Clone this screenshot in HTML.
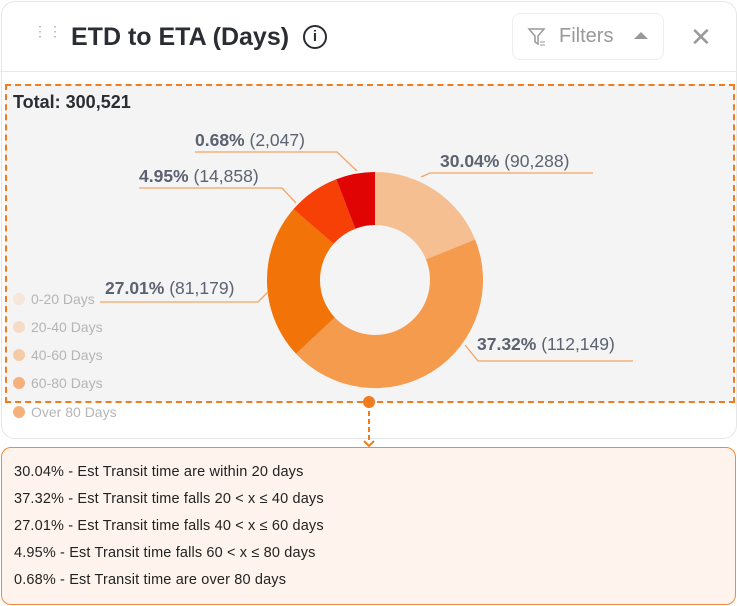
<!DOCTYPE html><html><head><style>
body{margin:0;width:737px;height:606px;background:#fff;font-family:"Liberation Sans",sans-serif;position:relative;overflow:hidden}
.card{position:absolute;left:1px;top:1px;width:734px;height:436px;border:1px solid #e6e6e6;border-radius:14px;background:#fff}
.t{position:absolute;white-space:nowrap}
.box{position:absolute;left:1px;top:447px;width:733px;height:156px;border:1.5px solid #f08a3c;border-radius:10px;background:#fef4ed}
.box div{font-size:14.5px;color:#222;position:absolute;left:12px;letter-spacing:0.15px}
</style></head><body>
<div class="card"></div>
<div class="t" style="left:33px;top:28px;color:#aaa;font-size:14px;line-height:6px;letter-spacing:1px">⋮⋮</div>
<div class="t" style="left:71px;top:23px;font-size:25px;font-weight:bold;color:#2a2d33">ETD to ETA (Days)</div>
<div class="t" style="left:303px;top:25px;width:20px;height:20px;border:2px solid #2a2d33;border-radius:50%;text-align:center;font-size:15px;font-weight:bold;line-height:20px;color:#2a2d33">i</div>
<div class="t" style="left:512px;top:13px;width:150px;height:45px;border:1px solid #eee;border-radius:8px"></div>
<svg class="t" style="left:527px;top:27px" width="20" height="20"><path d="M2 2H17L11 9V17L8 15V9Z" fill="none" stroke="#999" stroke-width="1.5"/><path d="M13 15h5M13 18h5" stroke="#999"/></svg>
<div class="t" style="left:559px;top:25px;font-size:20px;color:#999">Filters</div>
<div class="t" style="left:634px;top:32px;width:0;height:0;border-left:7px solid transparent;border-right:7px solid transparent;border-bottom:7px solid #999"></div>
<div class="t" style="left:690px;top:22px;font-size:26px;color:#999">✕</div>
<div class="t" style="left:0;top:71px;width:737px;height:1px;background:#e8e8e8"></div>
<div class="t" style="left:5px;top:84px;width:726px;height:315px;background:#f4f4f4;border:2px dashed #f07c1e"></div>
<div class="t" style="left:13px;top:92px;font-size:18px;font-weight:bold;color:#2a2d33">Total: 300,521</div>
<svg class="t" style="left:0;top:0" width="737" height="606" id="s">
<g id="pie"></g>
<g fill="none" stroke="#f5a462" stroke-width="1.3">
<polyline points="421,177 430,173 593,173"/>
<polyline points="465,345 478,361 633,361"/>
<polyline points="100,302 258,302 268,292"/>
<polyline points="139,188 282,188 296,203"/>
<polyline points="195,152 337,152 357,171"/>
<line x1="369" y1="403" x2="369" y2="443" stroke="#f07c1e" stroke-width="2" stroke-dasharray="5,3"/>
</g>
<circle cx="369" cy="402" r="6" fill="#f07c1e"/>
<path d="M364 441l5 5 5-5" stroke="#f07c1e" stroke-width="2" fill="none"/>
<g font-size="17.5" fill="#5b6270">
<text x="440" y="167"><tspan font-weight="bold">30.04%</tspan>  (90,288)</text>
<text x="477" y="350"><tspan font-weight="bold">37.32%</tspan> (112,149)</text>
<text x="105" y="294"><tspan font-weight="bold">27.01%</tspan> (81,179)</text>
<text x="139" y="182"><tspan font-weight="bold">4.95%</tspan> (14,858)</text>
<text x="195" y="146"><tspan font-weight="bold">0.68%</tspan> (2,047)</text>
</g>
<g font-size="14" fill="#b5b5b5">
<circle cx="19" cy="299" r="6" fill="#f6e6dc"/><text x="31" y="304">0-20 Days</text>
<circle cx="19" cy="327" r="6" fill="#f6dcc6"/><text x="31" y="332">20-40 Days</text>
<circle cx="19" cy="355" r="6" fill="#f6caa4"/><text x="31" y="360">40-60 Days</text>
<circle cx="19" cy="383" r="6" fill="#f5b07c"/><text x="31" y="388">60-80 Days</text>
<circle cx="19" cy="412" r="6" fill="#f5b07c"/><text x="31" y="417">Over 80 Days</text>
</g>
</svg>
<div class="box">
<div style="top:16px">30.04% - Est Transit time are within 20 days</div>
<div style="top:43px">37.32% - Est Transit time falls 20 &lt; x ≤ 40 days</div>
<div style="top:70px">27.01% - Est Transit time falls 40 &lt; x ≤ 60 days</div>
<div style="top:97px">4.95% - Est Transit time falls 60 &lt; x ≤ 80 days</div>
<div style="top:124px">0.68% - Est Transit time are over 80 days</div>
</div>
<script>
var cx=375,cy=280,R=108,r=55,s=[[0,68,"#f5bf92"],[68,227,"#f59b4d"],[227,311,"#f27409"],[311,339,"#f64006"],[339,360,"#e00404"]],h="";
function p(a,rr){a=a*Math.PI/180;return (cx+rr*Math.sin(a)).toFixed(1)+","+(cy-rr*Math.cos(a)).toFixed(1)}
s.forEach(function(q){var l=q[1]-q[0]>180?1:0;h+='<path fill="'+q[2]+'" d="M'+p(q[0],R)+'A'+R+','+R+' 0 '+l+' 1 '+p(q[1],R)+'L'+p(q[1],r)+'A'+r+','+r+' 0 '+l+' 0 '+p(q[0],r)+'Z"/>'});
document.getElementById("pie").innerHTML=h;
</script>
</body></html>
